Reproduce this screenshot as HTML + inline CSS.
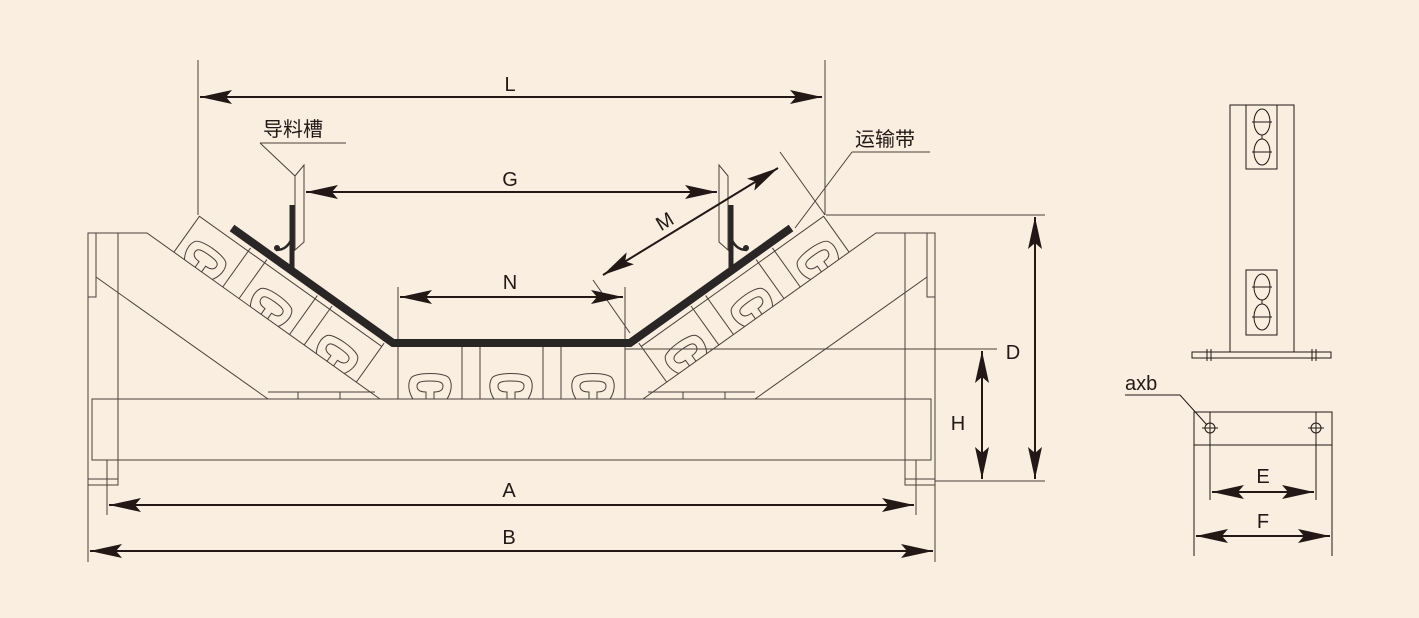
<!DOCTYPE html>
<html><head><meta charset="utf-8"><style>
html,body{margin:0;padding:0;background:#f9eee0;}
svg{display:block;}
text{font-family:"Liberation Sans","Noto Sans CJK SC",sans-serif;fill:#231815;}
</style></head><body>
<svg width="1419" height="618" viewBox="0 0 1419 618" xmlns="http://www.w3.org/2000/svg">
<defs>
<marker id="ar" markerUnits="userSpaceOnUse" markerWidth="34" markerHeight="16" refX="32" refY="8" orient="auto-start-reverse">
<path d="M0,8 L32,8 M0,1 L32,8 L0,15 L6,8 Z" fill="#231815" stroke="none"/>
</marker>
<path id="gl" d="M-17,0 C-21,-6 -23,-15 -19,-21 C-15,-27 15,-27 19,-21 C23,-15 21,-6 17,0 M-4,0 L-4,-7 C-10,-7 -13,-9 -13,-13 C-13,-17 -9,-18 0,-18 C9,-18 13,-17 13,-13 C13,-9 10,-7 4,-7 L4,0" fill="none" stroke="#4a403a" stroke-width="1"/>
<g id="half" fill="none" stroke="#4a403a" stroke-width="1">
  <path d="M88,233 L118,233 L118,485 L88,485 Z M96,233 L96,297 L88,297 M88,479 L118,479 M107,460 L107,515 M88,485 L88,562"/>
  <path d="M118,233 L147,233 L380,399 M96,277 L268,399 M268,392 L375,392 M298,392 L298,399 M340,392 L340,399"/>
  <path d="M198,60 L198,215"/>
  <g transform="translate(147,233) rotate(35.5)">
    <path d="M33,0 L33,-44 L257,-44 M257,0 L257,-48 M93,0 L93,-48 M113,0 L113,-48 M175,0 L175,-48 M193,0 L193,-48"/>
    <use href="#gl" transform="translate(63,0)"/>
    <use href="#gl" transform="translate(144,0)"/>
    <use href="#gl" transform="translate(225,0)"/>
  </g>
  <path d="M398,287 L398,399 M462,347 L462,399 M480,347 L480,399"/>
  <use href="#gl" transform="translate(430,399)"/>
  <path d="M295,176 L304,165 L304,242 L295,250 Z"/>
  <path d="M232,228 L393,343 L512,343" stroke="#2b2626" stroke-width="8" stroke-linejoin="miter"/>
  <path d="M292,205 L292,268" stroke="#2b2626" stroke-width="5"/>
  <path d="M292,238 C288,248 282,250 276,250" stroke="#2b2626" stroke-width="2.5"/>
  <circle cx="277" cy="248" r="3" fill="#2b2626" stroke="none"/>
</g>
</defs>

<rect x="92" y="399" width="839" height="61" fill="none" stroke="#4a403a" stroke-width="1"/>
<use href="#half"/>
<use href="#half" transform="translate(1023,0) scale(-1,1)"/>
<use href="#gl" transform="translate(511,399)"/>
<path d="M543,347 L543,399" stroke="#4a403a" stroke-width="1"/>

<g fill="none" stroke="#4a403a" stroke-width="1">
  <path d="M826,215 L1045,215 M935,481 L1045,481 M625,349 L997,349 M780,152 L825,215 M593,280 L630,333"/>
  <path d="M260,143 L346,143 M260,143 L295,176"/>
  <path d="M852,152 L930,152 M852,152 L795,228"/>
</g>

<g stroke="#231815" stroke-width="2" fill="none" marker-start="url(#ar)" marker-end="url(#ar)">
  <line x1="200" y1="97" x2="822" y2="97"/>
  <line x1="306" y1="192" x2="717" y2="192"/>
  <line x1="400" y1="297" x2="623" y2="297"/>
  <line x1="603" y1="275" x2="778" y2="168"/>
  <line x1="1035" y1="217" x2="1035" y2="479"/>
  <line x1="982" y1="351" x2="982" y2="479"/>
  <line x1="109" y1="505" x2="914" y2="505"/>
  <line x1="90" y1="551" x2="933" y2="551"/>
  <line x1="1212" y1="492" x2="1314" y2="492"/>
  <line x1="1196" y1="536" x2="1330" y2="536"/>
</g>

<g font-size="20" text-anchor="middle">
  <text x="510" y="91">L</text>
  <text x="510" y="186">G</text>
  <text x="510" y="289">N</text>
  <text x="509" y="497">A</text>
  <text x="509" y="544">B</text>
  <text x="1013" y="359">D</text>
  <text x="958" y="430">H</text>
  <text x="1263" y="483">E</text>
  <text x="1263" y="528">F</text>
  <text x="665" y="228" transform="rotate(-31 665 222)">M</text>
</g>
<text x="263" y="136" font-size="20">导料槽</text>
<text x="855" y="146" font-size="20">运输带</text>
<text x="1125" y="390" font-size="20">axb</text>

<g fill="none" stroke="#231815" stroke-width="1">
  <rect x="1230" y="105" width="64" height="247"/>
  <rect x="1246" y="105" width="31" height="64"/>
  <rect x="1246" y="270" width="31" height="65"/>
  <ellipse cx="1262" cy="122" rx="8" ry="13"/>
  <ellipse cx="1262" cy="152" rx="8" ry="13"/>
  <ellipse cx="1262" cy="287" rx="8" ry="13"/>
  <ellipse cx="1262" cy="317" rx="8" ry="13"/>
  <path d="M1252,122 L1272,122 M1252,152 L1272,152 M1252,287 L1272,287 M1252,317 L1272,317 M1262,135 L1262,139 M1262,300 L1262,304"/>
  <rect x="1192" y="352" width="139" height="6"/>
  <path d="M1207,349 L1207,361 M1211,349 L1211,361 M1312,349 L1312,361 M1316,349 L1316,361"/>
  <rect x="1194" y="412" width="138" height="33"/>
  <path d="M1194,445 L1194,556 M1332,445 L1332,556 M1210,412 L1210,500 M1316,412 L1316,500"/>
  <circle cx="1210" cy="428" r="5"/>
  <circle cx="1316" cy="428" r="5"/>
  <path d="M1202,428 L1218,428 M1308,428 L1324,428"/>
  <path d="M1125,395 L1180,395 L1207,425"/>
</g>
</svg>
</body></html>
